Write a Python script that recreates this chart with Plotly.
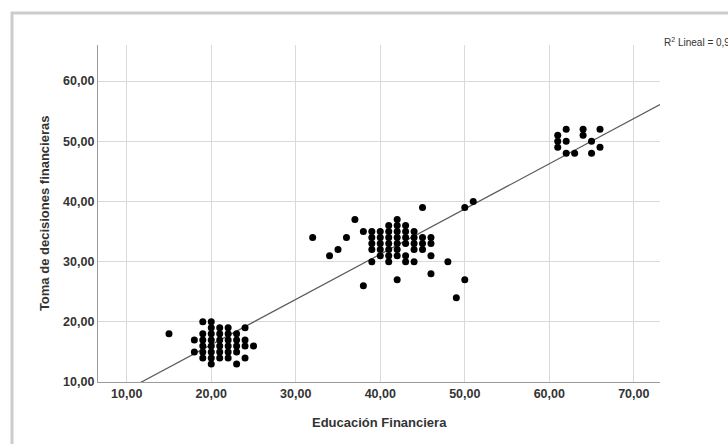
import numpy as np
import plotly.graph_objects as go

# Educación Financiera (x) and Toma de decisiones financieras (y), one entry per respondent
edu_fin = [
    15,
    18, 18,
    19, 19, 19, 19, 19, 19,
    20, 20, 20, 20, 20, 20, 20, 20,
    21, 21, 21, 21, 21, 21,
    22, 22, 22, 22, 22, 22,
    23, 23, 23, 23, 23,
    24, 24, 24, 24,
    25,
    32, 34, 35, 36, 37, 38, 38,
    39, 39, 39, 39, 39,
    40, 40, 40, 40, 40,
    41, 41, 41, 41, 41, 41, 41,
    42, 42, 42, 42, 42, 42, 42, 42,
    43, 43, 43, 43, 43, 43,
    44, 44, 44, 44, 44,
    45, 45, 45, 45,
    46, 46, 46, 46,
    48, 49, 50, 50, 51,
    61, 61, 61, 62, 62, 62, 63, 64, 64, 65, 65, 66, 66,
]
toma_dec = [
    18,
    17, 15,
    20, 18, 17, 16, 15, 14,
    20, 19, 18, 17, 16, 15, 14, 13,
    19, 18, 17, 16, 15, 14,
    19, 18, 17, 16, 15, 14,
    18, 17, 16, 15, 13,
    19, 17, 16, 14,
    16,
    34, 31, 32, 34, 37, 35, 26,
    35, 34, 33, 32, 30,
    35, 34, 33, 32, 31,
    36, 35, 34, 33, 32, 31, 30,
    37, 36, 35, 34, 33, 32, 31, 27,
    36, 35, 34, 33, 31, 30,
    35, 34, 33, 32, 30,
    39, 34, 33, 32,
    34, 33, 31, 28,
    30, 24, 27, 39, 40,
    51, 50, 49, 52, 50, 48, 48, 52, 51, 50, 48, 52, 49,
]

x_ticks = [10, 20, 30, 40, 50, 60, 70]
y_ticks = [10, 20, 30, 40, 50, 60]
x_range = [6.6, 73.1]
y_range = [10, 66]


def fmt(v):
    return f"{v:.2f}".replace(".", ",")


x = np.array(edu_fin, dtype=float)
y = np.array(toma_dec, dtype=float)
slope, intercept = np.polyfit(x, y, 1)
pred = slope * x + intercept
r2 = 1 - np.sum((y - pred) ** 2) / np.sum((y - y.mean()) ** 2)

line_x = np.array(x_range)
line_y = slope * line_x + intercept

font_family = "Liberation Sans, Arial, sans-serif"
text_col = "#333333"

fig = go.Figure()
fig.add_trace(go.Scatter(
    x=line_x, y=line_y, mode="lines",
    line=dict(color="#5a5a5a", width=1.2),
    hoverinfo="skip", showlegend=False,
))
fig.add_trace(go.Scatter(
    x=x, y=y, mode="markers",
    marker=dict(color="black", size=7, line=dict(width=0)),
    showlegend=False,
))

axis_common = dict(
    showgrid=True, gridcolor="#d9d9d9", gridwidth=1,
    showline=True, linecolor="#9a9a9a", linewidth=1.2,
    zeroline=False, ticks="",
    tickfont=dict(family=font_family, size=12.5, color=text_col, weight="bold"),
)
fig.update_xaxes(range=x_range, tickvals=x_ticks, ticktext=[fmt(v) for v in x_ticks],
                 **axis_common)
fig.update_yaxes(range=y_range, tickvals=y_ticks, ticktext=[fmt(v) for v in y_ticks],
                 **axis_common)

# card outline around the chart
fig.add_shape(type="rect", xref="paper", yref="paper",
              x0=-0.153, x1=1.3, y0=-0.4, y1=1.095,
              line=dict(color="#cccccc", width=3), fillcolor="rgba(0,0,0,0)",
              layer="below")

fig.add_annotation(text="Educación Financiera", xref="paper", yref="paper",
                   x=0.5, y=-0.12, xanchor="center", yanchor="middle", showarrow=False,
                   font=dict(family=font_family, size=13, color=text_col, weight="bold"))
fig.add_annotation(text="Toma de decisiones financieras", xref="paper", yref="paper",
                   x=-0.095, y=0.5, xanchor="center", yanchor="middle", showarrow=False,
                   textangle=-90,
                   font=dict(family=font_family, size=13, color=text_col, weight="bold"))
fig.add_annotation(text=f"R<sup>2</sup> Lineal = {r2:.3f}".replace(".", ","),
                   xref="paper", yref="paper", x=1.003, y=1.01,
                   xanchor="left", yanchor="middle", showarrow=False,
                   font=dict(family=font_family, size=10, color=text_col))

fig.update_layout(
    width=728, height=444,
    margin=dict(l=98, r=68, t=45, b=62),
    paper_bgcolor="white", plot_bgcolor="white",
    font=dict(family=font_family, color=text_col),
)

fig.write_html("out.html")
